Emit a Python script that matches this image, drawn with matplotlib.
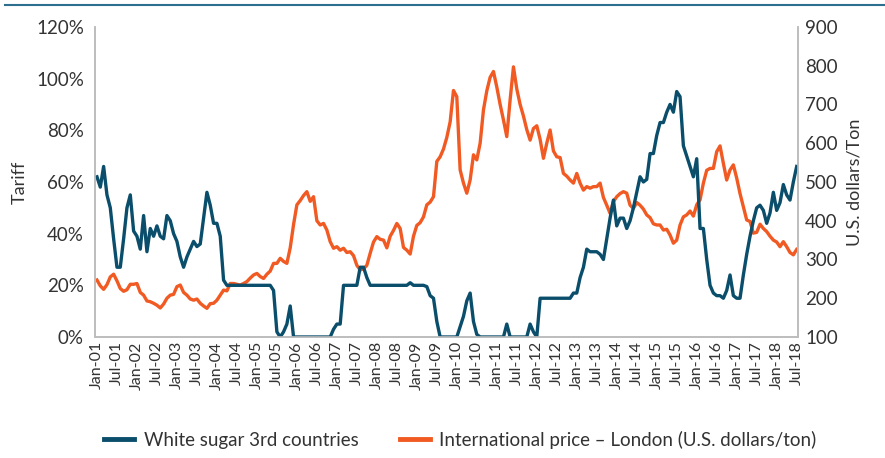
import matplotlib
matplotlib.use('Agg')
import matplotlib.pyplot as plt
from matplotlib.lines import Line2D

plt.rcParams['font.family'] = ['Lato', 'DejaVu Sans']

# Monthly data, Jan-01 .. Jul-18
months = ['Jan', 'Feb', 'Mar', 'Apr', 'May', 'Jun', 'Jul', 'Aug', 'Sep', 'Oct', 'Nov', 'Dec']
dates = [f'{m}-{y:02d}' for y in range(1, 19) for m in months][:211]

tariff = [
    62, 58, 66, 55, 50, 38, 27, 27, 38, 50, 55, 41,   # 2001
    39, 34, 47, 33, 42, 39, 43, 39, 38, 47, 45, 40,   # 2002
    37, 31, 27, 31, 34, 37, 35, 36, 46, 56, 51, 44,   # 2003
    44, 39, 22, 20, 20, 20, 20, 20, 20, 20, 20, 20,   # 2004
    20, 20, 20, 20, 20, 18, 2, 0, 2, 5, 12, 0,        # 2005
    0, 0, 0, 0, 0, 0, 0, 0, 0, 0, 0, 3,               # 2006
    5, 5, 20, 20, 20, 20, 20, 27, 27, 23, 20, 20,     # 2007
    20, 20, 20, 20, 20, 20, 20, 20, 20, 20, 21, 20,   # 2008
    20, 20, 20, 19.5, 16, 15, 6, 0, 0, 0, 0, 0,       # 2009
    0, 4, 8, 14, 17, 6, 1, 0, 0, 0, 0, 0,             # 2010
    0, 0, 0, 5, 0, 0, 0, 0, 0, 0, 5, 2,               # 2011
    0, 15, 15, 15, 15, 15, 15, 15, 15, 15, 15, 17,    # 2012
    17, 23, 27, 34, 33, 33, 33, 32, 30, 38, 46, 53,   # 2013
    43, 46, 46, 42, 45, 50, 56, 62, 60, 61, 71, 71,   # 2014
    78, 83, 83, 87, 90, 87, 95, 93, 74, 70, 66, 62,   # 2015
    69, 42, 42, 30, 20, 17, 16, 16, 15, 18, 24, 16,   # 2016
    15, 15, 24, 32, 39, 45, 50, 51, 49, 44, 48, 56,   # 2017
    49, 52, 59, 55, 53, 60, 66,                       # 2018
]

price = [
    247, 232, 223, 235, 255, 262, 245, 225, 218, 222, 236, 236,   # 2001
    238, 215, 208, 193, 191, 187, 182, 175, 185, 200, 208, 210,   # 2002
    230, 234, 215, 208, 198, 195, 198, 187, 180, 174, 186, 187,   # 2003
    195, 208, 221, 219, 238, 238, 236, 234, 238, 243, 252, 260,   # 2004
    264, 256, 251, 262, 270, 290, 290, 303, 295, 290, 330, 390,   # 2005
    441, 452, 465, 475, 450, 462, 400, 389, 393, 376, 346, 329,   # 2006
    333, 324, 329, 318, 320, 310, 285, 273, 276, 285, 316, 345,   # 2007
    359, 352, 350, 330, 360, 375, 393, 380, 331, 324, 314, 360,   # 2008
    388, 395, 410, 441, 448, 462, 553, 565, 585, 615, 655, 736,   # 2009
    720, 531, 497, 471, 505, 570, 557, 600, 686, 735, 770, 785,   # 2010
    745, 700, 660, 617, 712, 797, 740, 700, 670, 635, 608, 638,   # 2011
    645, 610, 561, 600, 634, 580, 565, 563, 522, 515, 505, 497,   # 2012
    522, 497, 479, 488, 484, 488, 488, 497, 460, 440, 419, 449,   # 2013
    462, 470, 475, 471, 440, 432, 447, 440, 430, 415, 408, 392,   # 2014
    389, 389, 376, 378, 363, 342, 350, 389, 410, 415, 425, 412,   # 2015
    441, 454, 497, 530, 535, 535, 578, 593, 548, 505, 531, 544,   # 2016
    510, 470, 436, 402, 398, 368, 370, 391, 380, 372, 360, 350,   # 2017
    345, 333, 346, 333, 318, 312, 326,                            # 2018
]

blue = '#0A4E6B'
orange = '#F15A22'
grey = '#BDBDBD'
text_c = '#333333'

fig = plt.figure(figsize=(8.85, 4.58), dpi=100)
ax = fig.add_axes([0.1073, 0.2642, 0.7944, 0.677])
ax2 = ax.twinx()

x = list(range(len(dates)))
l1, = ax.plot(x, tariff, color=blue, lw=2.4, solid_joinstyle='round')
l2, = ax2.plot(x, price, color=orange, lw=2.4, solid_joinstyle='round')
ax.set_zorder(ax2.get_zorder() + 1)
ax.patch.set_visible(False)

ax.set_xlim(-0.6, 210.4)
ax.set_ylim(0, 120)
ax2.set_ylim(100, 900)
ax.set_yticks(range(0, 121, 20))
ax.set_yticklabels([f'{v}%' for v in range(0, 121, 20)])
ax2.set_yticks(range(100, 901, 100))
ax.set_xticks(x[::6])
ax.set_xticklabels(dates[::6], rotation=90)

for a in (ax, ax2):
    a.spines['top'].set_visible(False)
    for s in ('left', 'right', 'bottom'):
        a.spines[s].set_color(grey)
        a.spines[s].set_linewidth(1.2)
    a.tick_params(length=0, colors=text_c, labelsize=13.5)
ax.tick_params(axis='x', labelsize=11.5, pad=3)
ax.tick_params(axis='y', pad=8)
ax2.tick_params(axis='y', pad=5)

ax.set_ylabel('Tariff', fontsize=13, color=text_c, labelpad=6)
ax2.set_ylabel('U.S. dollars/Ton', fontsize=13, color=text_c, labelpad=6)

fig.legend([l1, l2], ['White sugar 3rd countries', 'International price \u2013 London (U.S. dollars/ton)'],
           loc='center', bbox_to_anchor=(0.52, 0.04), ncol=2, frameon=False,
           fontsize=13.5, handlelength=1.6, handletextpad=0.5, columnspacing=2.2,
           labelcolor=text_c)
for h in fig.legends[0].legend_handles:
    h.set_linewidth(3.5)

# thin rule at top of figure
fig.add_artist(Line2D([5 / 885, 1], [1 - 4.5 / 458, 1 - 4.5 / 458], color='#2E6E8E', lw=1.5,
                      transform=fig.transFigure))

fig.savefig('out.png', dpi=100)
